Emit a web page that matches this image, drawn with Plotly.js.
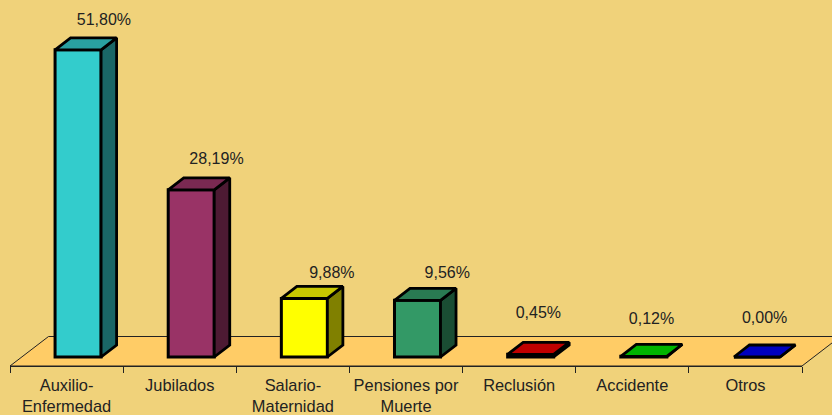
<!DOCTYPE html>
<html><head><meta charset="utf-8">
<script src="https://cdn.plot.ly/plotly-3.0.1.min.js"></script>
<style>html,body{margin:0;padding:0;background:#F0D27A;overflow:hidden}</style>
</head><body><div id="chart" style="width:832px;height:415px"></div>
<script>
const categories = ['Auxilio-<br>Enfermedad','Jubilados','Salario-<br>Maternidad','Pensiones por<br>Muerte','Reclusión','Accidente','Otros'];
const values = [51.80,28.19,9.88,9.56,0.45,0.12,0.00];
const valueText = ['51,80%','28,19%','9,88%','9,56%','0,45%','0,12%','0,00%'];
const frontColors = ['#33CCCC','#993366','#FFFF00','#339966','#FF0000','#00FF00','#0000FF'];
const topColors = ['#29A0A0','#7A2952','#C8C800','#297A52','#C00000','#00B400','#0000BE'];
const sideColors = ['#1A6666','#4D1A33','#808000','#1A4D33','#800000','#008000','#000080'];
const labelX = [0.33,0.325,0.345,0.365,0.17,0.17,0.17];
const labelY = [56.66,33.15,14.03,14.06,7.23,6.23,6.46];

const W=832,H=415,L=10,R=801.6,AX=366,BASE=357,PX=5.93,BAND=(R-L)/7;
const depthX=15.5/BAND, depthY=12/PX, barW=46/BAND, barOff=-11.5/BAND;
const idx=values.map((_,i)=>i);
const px=x=>(x-L)/(R-L), py=y=>(AX-y)/AX;

const traces=[{
  type:'bar',x:idx,y:values,width:barW,offset:barOff,
  marker:{color:frontColors,line:{color:'#000',width:3}},hoverinfo:'skip',showlegend:false
}];
values.forEach((v,i)=>{
  const a=i+barOff,b=a+barW;
  traces.push({type:'scatter',mode:'lines',fill:'toself',fillcolor:sideColors[i],
    x:[b,b+depthX,b+depthX,b,b],y:[0,depthY,v+depthY,v,0],
    line:{color:'#000',width:2.8},hoverinfo:'skip',showlegend:false,cliponaxis:false});
  traces.push({type:'scatter',mode:'lines',fill:'toself',fillcolor:topColors[i],
    x:[a,a+depthX,b+depthX,b,a],y:[v,v+depthY,v+depthY,v,v],
    line:{color:'#000',width:2.8},hoverinfo:'skip',showlegend:false,cliponaxis:false});
});
traces.push({type:'scatter',mode:'text',x:idx.map(i=>i+labelX[i]),y:labelY,text:valueText,
  textposition:'middle center',textfont:{family:'"Liberation Sans",Arial,sans-serif',size:16,color:'#222'},
  hoverinfo:'skip',showlegend:false,cliponaxis:false});

const floorPts=[[L,AX],[48.5,336.5],[840,336.5],[R,AX]];
const floorPath=floorPts.map((p,i)=>(i?'L':'M')+px(p[0])+' '+py(p[1])).join(' ')+' Z';

const layout={
  width:W,height:H,margin:{l:L,r:W-R,t:0,b:H-AX,pad:0},
  paper_bgcolor:'#F0D27A',plot_bgcolor:'rgba(0,0,0,0)',showlegend:false,
  font:{family:'"Liberation Sans",Arial,sans-serif',size:16.4,color:'#222'},
  bargap:0,
  xaxis:{type:'linear',range:[-0.5,6.5],showgrid:false,zeroline:false,showline:true,linecolor:'#222',linewidth:1,
    tickmode:'array',tickvals:idx,ticktext:categories,ticks:'',ticklabelstandoff:4,tickangle:0,
    minor:{tickmode:'array',tickvals:[-0.5,0.5,1.5,2.5,3.5,4.5,5.5,6.5],ticks:'outside',ticklen:6,tickcolor:'#222',tickwidth:1,showgrid:false},
    fixedrange:true},
  yaxis:{range:[-(AX-BASE)/PX,BASE/PX],visible:false,fixedrange:true},
  shapes:[{type:'path',layer:'below',xref:'paper',yref:'paper',path:floorPath,fillcolor:'#FFCC66',line:{color:'#222',width:1}}]
};
Plotly.newPlot('chart',traces,layout,{displayModeBar:false,staticPlot:true});
</script></body></html>
